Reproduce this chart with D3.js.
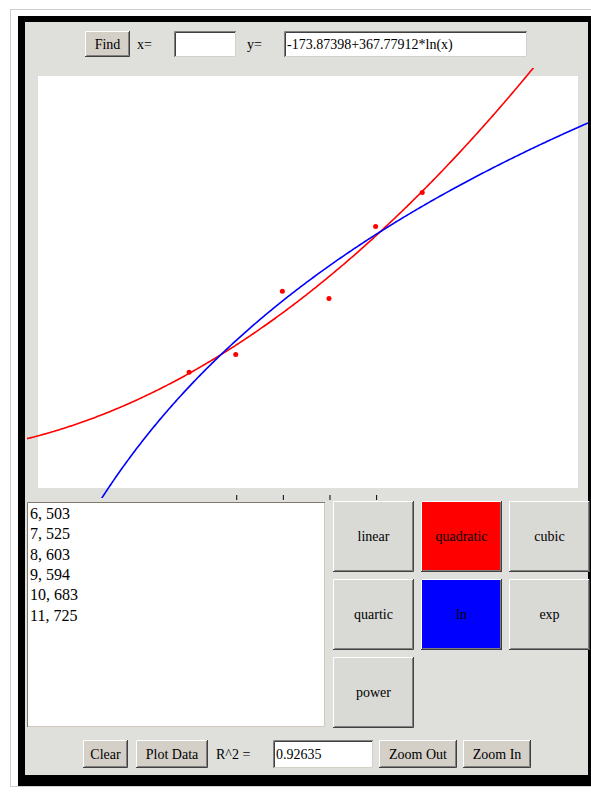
<!DOCTYPE html>
<html>
<head>
<meta charset="utf-8">
<script src="https://cdnjs.cloudflare.com/ajax/libs/d3/7.8.5/d3.min.js"></script>
<style>
    body { margin: 0; background: #ffffff; }
    svg { display: block; font-family: "Liberation Serif", "Times New Roman", serif; }
</style>
</head>
<body>
<svg id="applet" width="591" height="793"></svg>
<script>
/*
    Data points typed into the box
 */
var xValues = [6, 7, 8, 9, 10, 11];
var yValues = [503, 525, 603, 594, 683, 725];

/*
    Visible window of the plot and the tick marks
 */
var xDomain = [2.76, 14.34];
var yDomain = [360, 869];
var tickValues = [7, 8, 9, 10];

/*
    Texts shown in the fields
 */
var fitLabel = "-173.87398+367.77912*ln(x)";
var rSquaredLabel = "0.92635";

var fitButtons = [["linear", "quadratic", "cubic"], ["quartic", "ln", "exp"], ["power"]];
var fitColors = {quadratic: "#ff0000", ln: "#0000ff"};


var svg = d3.select("#applet");

var panelColor = "#dfe0dc";
var buttonFace = "#d4d0c8";


/*
    Least squares fits
 */
var lnFit = function(xs, ys){

    var lx = xs.map(function(d){ return Math.log(d); });
    var mx = d3.mean(lx), my = d3.mean(ys);
    var sxy = 0, sxx = 0;

    for(var i=0;i<lx.length;i++){
        sxy += (lx[i]-mx)*(ys[i]-my);
        sxx += (lx[i]-mx)*(lx[i]-mx);
    }

    var b = sxy/sxx;
    var a = my - b*mx;

    return function(x){ return a + b*Math.log(x); };
};

var quadraticFit = function(xs, ys){

    // normal equations, solved with Cramer's rule
    var s = [0,0,0,0,0], t = [0,0,0];

    for(var i=0;i<xs.length;i++){
        for(var k=0;k<5;k++) s[k] += Math.pow(xs[i],k);
        for(var j=0;j<3;j++) t[j] += ys[i]*Math.pow(xs[i],j);
    }

    var m = [[s[0],s[1],s[2]],[s[1],s[2],s[3]],[s[2],s[3],s[4]]];

    var det = function(a){
        return a[0][0]*(a[1][1]*a[2][2]-a[1][2]*a[2][1])
             - a[0][1]*(a[1][0]*a[2][2]-a[1][2]*a[2][0])
             + a[0][2]*(a[1][0]*a[2][1]-a[1][1]*a[2][0]);
    };

    var d = det(m);
    var c = [0,1,2].map(function(col){
        var mm = m.map(function(row,r){
            return row.map(function(v,cc){ return cc===col ? t[r] : v; });
        });
        return det(mm)/d;
    });

    return function(x){ return c[0] + c[1]*x + c[2]*x*x; };
};


/*
    Raised button and sunken field
 */
var raised = function(x, y, w, h, face, label){

    var g = svg.append('g');

    g.append('rect')
        .attr('x', x).attr('y', y)
        .attr('width', w).attr('height', h)
        .attr('fill', face);

    g.append('path')
        .attr('d', 'M'+(x+0.5)+','+(y+h-1)+'V'+(y+0.5)+'H'+(x+w-1))
        .attr('fill','none').attr('stroke','#ffffff');

    g.append('path')
        .attr('d', 'M'+(x+1.5)+','+(y+h-1.5)+'H'+(x+w-1.5)+'V'+(y+1))
        .attr('fill','none').attr('stroke','#808080');

    g.append('path')
        .attr('d', 'M'+x+','+(y+h-0.5)+'H'+(x+w-0.5)+'V'+y)
        .attr('fill','none').attr('stroke','#404040');

    g.append('text')
        .attr('x', x + w/2)
        .attr('y', y + h/2)
        .attr('dy', '0.35em')
        .attr('text-anchor', 'middle')
        .attr('font-size', 14)
        .attr('fill', '#000000')
        .text(label);

    return g;
};

var sunken = function(x, y, w, h, label){

    var g = svg.append('g');

    g.append('rect')
        .attr('x', x).attr('y', y)
        .attr('width', w).attr('height', h)
        .attr('fill', '#ffffff');

    g.append('path')
        .attr('d', 'M'+(x+0.5)+','+(y+h)+'V'+(y+0.5)+'H'+(x+w))
        .attr('fill','none').attr('stroke','#808080');

    g.append('path')
        .attr('d', 'M'+(x+1.5)+','+(y+h-1)+'V'+(y+1.5)+'H'+(x+w-1))
        .attr('fill','none').attr('stroke','#404040');

    g.append('path')
        .attr('d', 'M'+(x+1)+','+(y+h-0.5)+'H'+(x+w-0.5)+'V'+(y+1))
        .attr('fill','none').attr('stroke', buttonFace);

    if(label){
        g.append('text')
            .attr('x', x + 3)
            .attr('y', y + h/2)
            .attr('dy', '0.35em')
            .attr('font-size', 14)
            .text(label);
    }

    return g;
};

var plainText = function(x, y, label){

    svg.append('text')
        .attr('x', x)
        .attr('y', y)
        .attr('dy', '0.35em')
        .attr('font-size', 14)
        .text(label);
};


/*
    Frame of the applet
 */
svg.append('rect')
    .attr('x', 10.5).attr('y', 9.5)
    .attr('width', 600).attr('height', 777)
    .attr('fill', 'none')
    .attr('stroke', '#cfcfcf');

svg.append('rect')
    .attr('x', 18).attr('y', 16)
    .attr('width', 600).attr('height', 770)
    .attr('fill', '#000000');

svg.append('rect')
    .attr('x', 25).attr('y', 22)
    .attr('width', 563).attr('height', 753)
    .attr('fill', panelColor);


/*
    Top row
 */
raised(85, 31, 45, 26, buttonFace, "Find");
plainText(137, 44, "x=");
sunken(174, 31, 62, 26, "");
plainText(247, 44, "y=");
sunken(284, 31, 243, 26, fitLabel);


/*
    Plot
 */
var x = d3.scaleLinear().domain(xDomain).range([38, 578]);
var y = d3.scaleLinear().domain(yDomain).range([488, 76]);

svg.append('rect')
    .attr('x', x.range()[0])
    .attr('y', y.range()[1])
    .attr('width', x.range()[1] - x.range()[0])
    .attr('height', y.range()[0] - y.range()[1])
    .attr('fill', '#ffffff');

svg.append('defs')
    .append('clipPath')
    .attr('id', 'canvasClip')
    .append('rect')
    .attr('x', 27).attr('y', 68)
    .attr('width', 561).attr('height', 430);

var curves = [
    {name: 'quadratic', f: quadraticFit(xValues, yValues)},
    {name: 'ln', f: lnFit(xValues, yValues)}
];

var samples = d3.range(0, 401).map(function(i){
    return x.invert(27) + i*(x.invert(588) - x.invert(27))/400;
});

var line = d3.line()
    .x(function(d){ return x(d[0]); })
    .y(function(d){ return y(d[1]); });

svg.append('g')
    .attr('clip-path', 'url(#canvasClip)')
    .selectAll('path')
    .data(curves)
    .enter()
    .append('path')
    .attr('fill', 'none')
    .attr('stroke-width', 1.6)
    .attr('stroke', function(d){ return fitColors[d.name]; })
    .attr('d', function(d){
        return line(samples.map(function(s){ return [s, d.f(s)]; }));
    });

svg.append('g')
    .selectAll('circle')
    .data(xValues)
    .enter()
    .append('circle')
    .attr('cx', function(d){ return x(d); })
    .attr('cy', function(d,i){ return y(yValues[i]); })
    .attr('r', 2.5)
    .attr('fill', '#ff0000');

var axis = svg.append('g')
    .attr('transform', 'translate(0.5,495)')
    .call(d3.axisBottom(x).tickValues(tickValues).tickSize(5).tickFormat(''));

axis.select('.domain').remove();
axis.selectAll('line').attr('stroke', '#000000');


/*
    Data box
 */
var box = svg.append('g');

box.append('rect')
    .attr('x', 27).attr('y', 502)
    .attr('width', 298).attr('height', 225)
    .attr('fill', '#ffffff');

box.append('path')
    .attr('d', 'M27.5,727V502.5H325')
    .attr('fill','none').attr('stroke','#7f7a6c');

box.append('path')
    .attr('d', 'M28,726.5H324.5V503')
    .attr('fill','none').attr('stroke','#cfc9bb');

box.selectAll('text')
    .data(xValues)
    .enter()
    .append('text')
    .attr('x', 30)
    .attr('y', function(d,i){ return 519 + i*20.3; })
    .attr('font-size', 16)
    .text(function(d,i){ return d + ", " + yValues[i]; });


/*
    Fit buttons
 */
var col = d3.scaleBand().domain([0,1,2]).range([333, 590]).paddingInner(0.08);
var row = d3.scaleBand().domain([0,1,2]).range([501, 728]).paddingInner(0.09);

fitButtons.forEach(function(names, r){
    names.forEach(function(name, c){
        raised(col(c), row(r), col.bandwidth(), row.bandwidth(), fitColors[name] || "#d9d9d6", name);
    });
});


/*
    Bottom row
 */
raised(83, 740, 45, 28, buttonFace, "Clear");
raised(136, 740, 72, 28, buttonFace, "Plot Data");
plainText(216, 754, "R^2 =");
sunken(273, 740, 100, 28, rSquaredLabel);
raised(379, 740, 78, 28, buttonFace, "Zoom Out");
raised(463, 740, 68, 28, buttonFace, "Zoom In");
</script>
</body>
</html>
